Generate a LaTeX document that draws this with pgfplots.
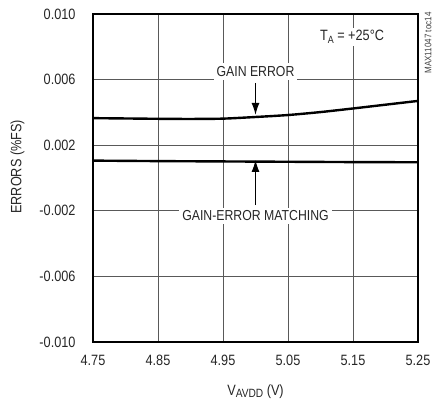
\documentclass[border=0pt]{standalone}
\usepackage{pgfplots}
\pgfplotsset{compat=1.18}
\usetikzlibrary{arrows.meta}
\usepackage{fontspec}
\setmainfont{Liberation Sans}[FakeStretch=0.85]
\begin{document}
\begin{tikzpicture}[x=1bp,y=1bp]
\useasboundingbox (0,0) rectangle (433,405);
\begin{axis}[
  at={(93bp,63bp)}, anchor=south west,
  scale only axis, width=325bp, height=328bp,
  xmin=4.75, xmax=5.25, ymin=-0.010, ymax=0.010,
  xtick={4.75,4.85,4.95,5.05,5.15,5.25},
  ytick={-0.010,-0.006,-0.002,0.002,0.006,0.010},
  xticklabels={4.75,4.85,4.95,5.05,5.15,5.25},
  yticklabels={-0.010,-0.006,-0.002,0.002,0.006,0.010},
  scaled y ticks=false,
  grid=major,
  major grid style={line width=0.9bp, black!65},
  major tick length=0pt,
  axis line style={line width=2.2bp},
  tick label style={font=\fontsize{15}{15}\selectfont, text=black!85},
  xticklabel style={anchor=north, yshift=-10bp},
  yticklabel style={anchor=east, xshift=-14bp},
  xlabel={V\raisebox{-0.25ex}{\fontsize{12}{12}\selectfont AVDD} (V)},
  ylabel={ERRORS (\%FS)},
  label style={font=\fontsize{15}{15}\selectfont, text=black!85},
  xlabel style={at={(axis description cs:0.5,-0.15)}, anchor=center},
  ylabel style={at={(axis description cs:-0.232,0.534)}, anchor=center, rotate=0},
  clip=false,
]
\addplot[line width=2.4bp, black, smooth] coordinates {
 (4.75,0.00365) (4.80,0.00363) (4.85,0.00361) (4.90,0.00360) (4.95,0.00362)
 (5.00,0.00372) (5.05,0.00384) (5.10,0.00402) (5.15,0.00424) (5.20,0.00447) (5.25,0.00470)};
\addplot[line width=2.4bp, black] coordinates {
 (4.75,0.00106) (4.85,0.00103) (4.95,0.00101) (5.05,0.00099) (5.15,0.00097) (5.25,0.00096)};
\node[fill=white, text=black!85, inner sep=3bp, font=\fontsize{14.5}{14.5}\selectfont] at (axis cs:5.0,0.0065) {GAIN ERROR};
\node[fill=white, text=black!85, inner sep=3bp, font=\fontsize{14.5}{14.5}\selectfont] at (axis cs:5.0,-0.0023) {GAIN-ERROR MATCHING};
\draw[line width=1.1bp, -{Latex[length=12bp,width=8bp]}] (axis cs:5.0,0.0058) -- (axis cs:5.0,0.00385);
\draw[line width=1.1bp, -{Latex[length=12bp,width=8bp]}] (axis cs:5.0,-0.00165) -- (axis cs:5.0,0.00110);
\node[fill=white, text=black!85, inner sep=2bp, font=\fontsize{15}{15}\selectfont] at (axis cs:5.1485,0.0086) {T\raisebox{-0.35ex}{\fontsize{10.5}{10.5}\selectfont A} = +25\textdegree C};
\end{axis}
\node[rotate=90, font=\fontsize{9.5}{9.5}\selectfont, text=black!75, inner sep=0pt] at (428,362) {MAX11047 toc14};
\end{tikzpicture}
\end{document}
